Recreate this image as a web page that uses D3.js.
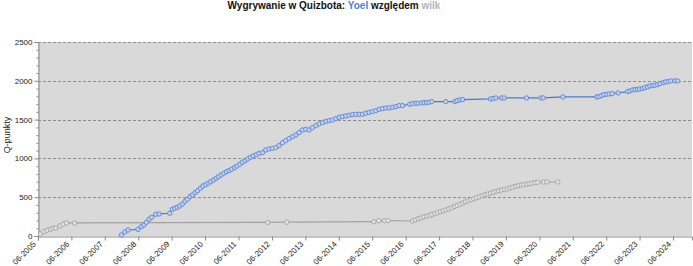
<!DOCTYPE html>
<html>
<head>
<meta charset="utf-8">
<script src="https://cdn.jsdelivr.net/npm/d3@7"></script>
<style>
  body { margin: 0; background: #fff; }
  svg { display: block; font-family: "Liberation Sans", Arial, sans-serif; }
  .title { font-size: 10px; font-weight: bold; fill: #111; }
  .tick-label { font-size: 8px; fill: #222; }
</style>
</head>
<body>
<svg id="chart" width="693" height="266"></svg>
<script>
// --- Data ---
const yoelDates = [
  "2007-11-29", "2008-01-05", "2008-02-10", "2008-05-28", "2008-07-04", "2008-08-02", "2008-08-29",
  "2008-09-27", "2008-10-26", "2008-12-09", "2009-01-15", "2009-05-10", "2009-06-08", "2009-07-03",
  "2009-08-02", "2009-08-27", "2009-09-26", "2009-10-24", "2009-11-20", "2009-12-18", "2010-01-14",
  "2010-02-12", "2010-03-11", "2010-04-10", "2010-05-08", "2010-06-07", "2010-07-06", "2010-08-01",
  "2010-09-01", "2010-09-29", "2010-10-25", "2010-11-23", "2010-12-22", "2011-01-21", "2011-02-18",
  "2011-03-18", "2011-04-17", "2011-05-15", "2011-06-14", "2011-07-13", "2011-08-11", "2011-09-10",
  "2011-10-09", "2011-11-07", "2011-12-14", "2012-01-12", "2012-02-18", "2012-03-24", "2012-04-29",
  "2012-06-06", "2012-07-12", "2012-08-17", "2012-09-24", "2012-10-30", "2012-12-05", "2013-01-12",
  "2013-02-17", "2013-03-23", "2013-04-30", "2013-06-05", "2013-07-11", "2013-08-17", "2013-09-23",
  "2013-10-29", "2013-12-05", "2014-01-11", "2014-02-16", "2014-03-23", "2014-04-29", "2014-06-04",
  "2014-07-11", "2014-08-16", "2014-09-22", "2014-10-29", "2014-12-04", "2015-01-10", "2015-02-15",
  "2015-03-22", "2015-04-28", "2015-06-04", "2015-07-10", "2015-08-15", "2015-09-22", "2015-10-28",
  "2015-12-04", "2016-01-10", "2016-02-15", "2016-03-21", "2016-04-28", "2016-07-15", "2016-08-15",
  "2016-09-21", "2016-10-15", "2016-11-21", "2016-12-20", "2017-01-15", "2017-02-10", "2017-03-13",
  "2017-08-13", "2017-11-20", "2017-12-15", "2018-01-15", "2018-02-13", "2018-12-15", "2019-01-13",
  "2019-02-12", "2019-04-15", "2019-05-13", "2020-01-13", "2020-06-18", "2020-07-13", "2021-02-13",
  "2022-02-18", "2022-03-13", "2022-04-12", "2022-05-07", "2022-06-06", "2022-07-04", "2022-08-06",
  "2022-10-10", "2023-01-21", "2023-02-15", "2023-03-15", "2023-04-12", "2023-05-09", "2023-06-03",
  "2023-07-03", "2023-07-28", "2023-08-27", "2023-09-21", "2023-10-21", "2023-11-15", "2023-12-15",
  "2024-01-09", "2024-02-15", "2024-03-12", "2024-04-09", "2024-05-06", "2024-06-21", "2024-07-21"
];
const yoelPoints = [
  13, 52, 77, 86, 120, 142, 177,
  215, 241, 280, 284, 293, 344, 357,
  370, 387, 412, 447, 473, 507, 528,
  558, 584, 615, 644, 662, 679, 700,
  722, 744, 765, 786, 808, 829, 842,
  860, 881, 902, 924, 950, 971, 993,
  1014, 1031, 1048, 1066, 1074, 1109, 1121,
  1130, 1139, 1164, 1203, 1229, 1255, 1280,
  1302, 1332, 1366, 1375, 1366, 1396, 1422,
  1444, 1461, 1478, 1487, 1495, 1512, 1530,
  1538, 1547, 1556, 1564, 1568, 1568, 1568,
  1581, 1594, 1603, 1615, 1633, 1642, 1650,
  1650, 1659, 1667, 1680, 1680, 1698, 1706,
  1711, 1711, 1715, 1719, 1719, 1724, 1732,
  1732, 1732, 1745, 1753, 1758, 1766, 1771,
  1779, 1779, 1779, 1779, 1779, 1779, 1792,
  1792, 1796, 1809, 1822, 1826, 1831, 1835,
  1844, 1861, 1869, 1882, 1887, 1891, 1895,
  1899, 1912, 1921, 1934, 1938, 1943, 1951,
  1964, 1977, 1986, 1990, 1999, 1999, 1999
];

const wilkDates = [
  "2005-06-27", "2005-08-02", "2005-09-08", "2005-10-14", "2005-11-12", "2005-12-12", "2006-01-25",
  "2006-03-01", "2006-04-07", "2006-07-06", "2012-04-15", "2012-11-10", "2015-06-19", "2015-08-12",
  "2015-10-15", "2015-11-21",
  "2016-08-15", "2016-09-15", "2016-10-15", "2016-11-15", "2016-12-15", "2017-01-15", "2017-02-15",
  "2017-03-15", "2017-04-15", "2017-05-15", "2017-06-15", "2017-07-15", "2017-08-15", "2017-09-15",
  "2017-10-15", "2017-11-15", "2017-12-15", "2018-01-15", "2018-02-15", "2018-03-15", "2018-04-15",
  "2018-05-15", "2018-06-15", "2018-07-15", "2018-08-15", "2018-09-15", "2018-10-15", "2018-11-15",
  "2018-12-15", "2019-01-15", "2019-02-15", "2019-03-15", "2019-04-15", "2019-05-15", "2019-06-15",
  "2019-07-15", "2019-08-15", "2019-09-15", "2019-10-15", "2019-11-15", "2019-12-15", "2020-01-15",
  "2020-02-15", "2020-03-15", "2020-04-15", "2020-05-15", "2020-07-18", "2020-08-24", "2020-12-20"
];
const wilkPoints = [
  26, 56, 73, 86, 99, 103, 129,
  151, 168, 168, 175, 178, 184, 197,
  197, 197,
  193, 208, 222, 232, 245, 255, 264,
  275, 288, 300, 312, 324, 336, 348,
  362, 378, 394, 408, 424, 440, 455,
  468, 480, 494, 507, 518, 530, 541,
  552, 564, 575, 584, 592, 600, 606,
  618, 630, 640, 648, 656, 662, 668,
  675, 680, 688, 692, 696, 696, 696
];

const yTicks = [0, 500, 1000, 1500, 2000, 2500];
const xTickYears = d3.range(2005, 2025);
const titleParts = [
  { text: "Wygrywanie w Quizbota: ", color: "#111" },
  { text: "Yoel", color: "#4a7fd4" },
  { text: " względem ", color: "#111" },
  { text: "wilk", color: "#b3b3b3" }
];

// --- Layout ---
const W = 693, H = 266;
const M = { left: 38, right: 1, top: 42, bottom: 30 };
const plotW = W - M.left - M.right;
const plotH = H - M.top - M.bottom;

const parse = d3.timeParse("%Y-%m-%d");
const x = d3.scaleTime()
  .domain([new Date(2005, 5, 1), new Date(2024, 11, 25)])
  .range([M.left, M.left + plotW]);
const y = d3.scaleLinear()
  .domain([0, 2500])
  .range([M.top + plotH, M.top]);

const svg = d3.select("#chart");

// Plot background
svg.append("rect")
  .attr("x", M.left).attr("y", M.top)
  .attr("width", plotW).attr("height", plotH)
  .attr("fill", "#d9d9d9");

// Gridlines
svg.append("g")
  .selectAll("line")
  .data(yTicks.filter(d => d > 0))
  .join("line")
  .attr("x1", M.left).attr("x2", M.left + plotW)
  .attr("y1", d => Math.round(y(d)) + 0.5).attr("y2", d => Math.round(y(d)) + 0.5)
  .attr("stroke", "#8c8c8c")
  .attr("stroke-dasharray", "3,2");

// Y axis (major + minor ticks)
const yAxis = svg.append("g")
  .attr("transform", `translate(${M.left + 0.5},0)`)
  .call(d3.axisLeft(y).tickValues(yTicks).tickSize(4).tickPadding(2).tickFormat(d3.format("d")));
svg.append("g")
  .attr("transform", `translate(${M.left + 0.5},0)`)
  .call(d3.axisLeft(y).tickValues(d3.range(0, 2501, 100).filter(d => d % 500)).tickSize(2).tickFormat(""))
  .call(g => g.select(".domain").remove())
  .selectAll("line").attr("stroke", "#888");
yAxis.select(".domain").attr("stroke", "#888");
yAxis.selectAll(".tick line").attr("stroke", "#888");
yAxis.selectAll("text").attr("class", "tick-label").attr("font-family", null).attr("font-size", null);

// X axis
const xAxis = svg.append("g")
  .attr("transform", `translate(0,${M.top + plotH + 0.5})`)
  .call(d3.axisBottom(x)
    .tickValues(xTickYears.map(yr => new Date(yr, 5, 1)))
    .tickSize(4)
    .tickFormat(d3.timeFormat("%m-%Y")));
xAxis.select(".domain").attr("stroke", "#888");
xAxis.selectAll(".tick line").attr("stroke", "#888");
xAxis.selectAll("text")
  .attr("class", "tick-label")
  .attr("font-family", null).attr("font-size", null)
  .attr("text-anchor", "end")
  .attr("dy", null).attr("y", 0)
  .attr("transform", "translate(-2,8) rotate(-45)");

// Y label
svg.append("text")
  .attr("transform", "translate(8,135) rotate(-90)")
  .attr("text-anchor", "middle")
  .attr("dominant-baseline", "middle")
  .attr("font-size", 9)
  .attr("fill", "#222")
  .text("Q-punkty");

// Title
const title = svg.append("text")
  .attr("class", "title")
  .attr("x", 334).attr("y", 9)
  .attr("text-anchor", "middle");
title.selectAll("tspan")
  .data(titleParts)
  .join("tspan")
  .attr("fill", d => d.color)
  .text(d => d.text);

// Series
function drawSeries(dates, values, lineColor, dotStroke, dotFill) {
  const pts = dates.map((d, i) => ({ date: parse(d), value: values[i] }));
  const line = d3.line().x(d => x(d.date)).y(d => y(d.value));
  svg.append("path")
    .datum(pts)
    .attr("d", line)
    .attr("fill", "none")
    .attr("stroke", lineColor)
    .attr("stroke-width", 1.2);
  svg.append("g")
    .selectAll("circle")
    .data(pts)
    .join("circle")
    .attr("cx", d => x(d.date))
    .attr("cy", d => y(d.value))
    .attr("r", 2.2)
    .attr("fill", dotFill)
    .attr("stroke", dotStroke)
    .attr("stroke-width", 0.9);
}

drawSeries(wilkDates, wilkPoints, "#a3a3a3", "#a3a3a3", "#e2e2e2");
drawSeries(yoelDates, yoelPoints, "#4a78d0", "#5a86d8", "#c3d0ea");
</script>
</body>
</html>
